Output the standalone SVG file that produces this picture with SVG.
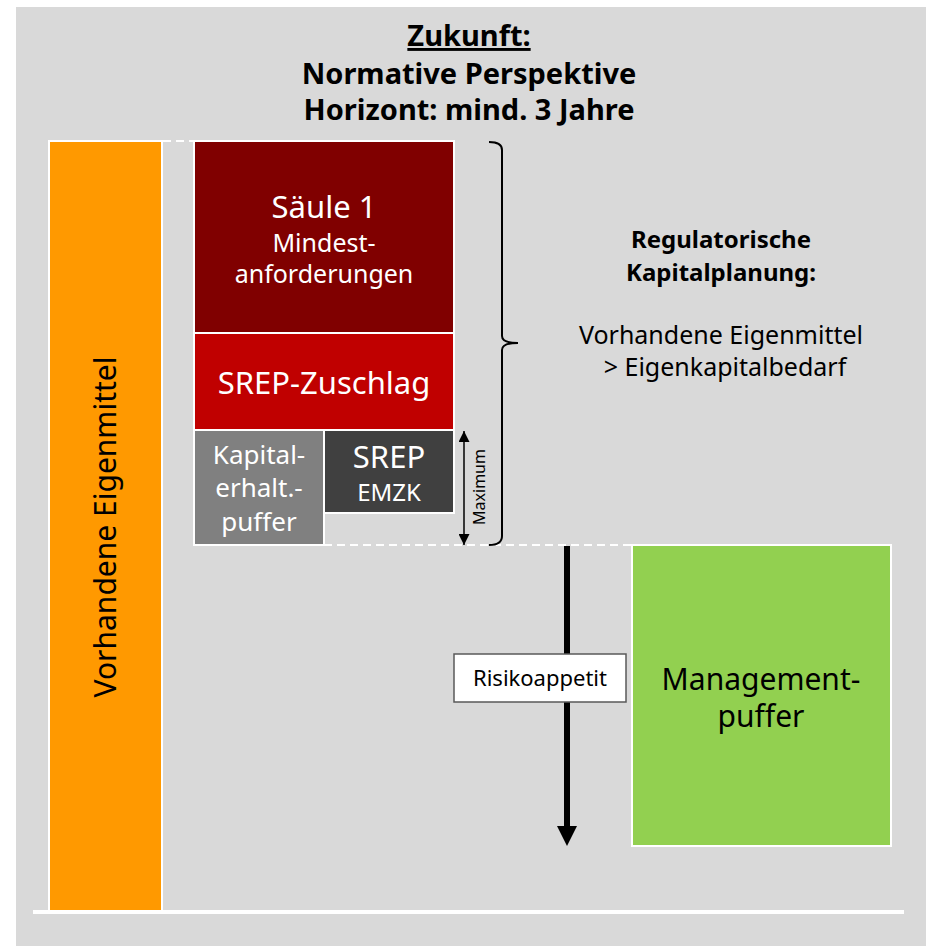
<svg xmlns="http://www.w3.org/2000/svg" width="926" height="946" viewBox="0 0 926 946">
  <defs>
    <style>
      text { font-family: "Noto Sans", "Open Sans", "DejaVu Sans", sans-serif; text-anchor: middle; }
      .w { fill: #ffffff; }
      .k { fill: #000000; }
      .b { font-weight: bold; }
      .box { stroke: #ffffff; stroke-width: 2; }
      .dash { stroke: #ffffff; stroke-width: 2; stroke-dasharray: 8 5; fill: none; }
    </style>
    <marker id="head" viewBox="0 0 10 10" refX="10" refY="5" markerWidth="11" markerHeight="11" markerUnits="userSpaceOnUse" orient="auto-start-reverse">
      <path d="M0,0 L10,5 L0,10 Z" fill="#000"/>
    </marker>
    <marker id="bigHead" viewBox="0 0 20 20" refX="0" refY="10" markerWidth="20" markerHeight="20" markerUnits="userSpaceOnUse" orient="auto">
      <path d="M0,0 L20,10 L0,20 Z" fill="#000"/>
    </marker>
  </defs>

  <!-- background panel -->
  <rect x="0" y="0" width="926" height="946" fill="#ffffff"/>
  <rect x="16" y="7" width="910" height="939" fill="#d9d9d9"/>

  <!-- heading -->
  <g id="heading">
    <text x="469" y="46" font-size="29" class="k b" text-decoration="underline">Zukunft:</text>
    <text x="469" y="84" font-size="29" class="k b">Normative Perspektive</text>
    <text x="469" y="120" font-size="29" class="k b">Horizont: mind. 3 Jahre</text>
  </g>

  <!-- base line -->
  <rect x="33" y="910" width="871" height="4" fill="#ffffff"/>

  <!-- connectors -->
  <g id="connectors">
    <line x1="163" y1="141" x2="194" y2="141" class="dash"/>
    <line x1="324" y1="545" x2="632" y2="545" class="dash"/>
    <!-- Maximum span -->
    <line x1="464" y1="431" x2="464" y2="545" stroke="#000" stroke-width="1.5" marker-start="url(#head)" marker-end="url(#head)"/>
    <!-- curly brace -->
    <path d="M489,142 Q502,142 502,150 L502,336 Q502,343 518,343 Q502,343 502,350 L502,536 Q502,545 489,545" fill="none" stroke="#000" stroke-width="2"/>
    <!-- risk appetite arrow -->
    <line x1="567" y1="546" x2="567" y2="826" stroke="#000" stroke-width="6" marker-end="url(#bigHead)"/>
  </g>

  <g id="eigenmittel">
    <rect x="49" y="141" width="113" height="770" fill="#ff9900" class="box"/>
    <text transform="translate(116,527) rotate(-90)" font-size="30" class="k">Vorhandene Eigenmittel</text>
  </g>

  <g id="saeule1">
    <rect x="194" y="141" width="260" height="192" fill="#800000" class="box"/>
    <text x="324" y="218" font-size="31" class="w">Säule 1</text>
    <text x="324" y="252" font-size="25" class="w">Mindest-</text>
    <text x="324" y="283" font-size="25" class="w">anforderungen</text>
  </g>

  <g id="srep-zuschlag">
    <rect x="194" y="333" width="260" height="97" fill="#c00000" class="box"/>
    <text x="324" y="394" font-size="31" class="w">SREP-Zuschlag</text>
  </g>

  <g id="kapitalerhaltungspuffer">
    <rect x="194" y="430" width="130" height="115" fill="#808080" class="box"/>
    <text x="259" y="464" font-size="26" class="w">Kapital-</text>
    <text x="259" y="497" font-size="26" class="w">erhalt.-</text>
    <text x="259" y="531" font-size="26" class="w">puffer</text>
  </g>

  <g id="srep-emzk">
    <rect x="324" y="430" width="130" height="83" fill="#404040" class="box"/>
    <text x="389" y="468" font-size="31" class="w">SREP</text>
    <text x="389" y="501" font-size="24" class="w">EMZK</text>
  </g>

  <g id="maximum-label">
    <text transform="translate(485,487) rotate(-90)" font-size="16" class="k">Maximum</text>
  </g>

  <g id="kapitalplanung">
    <text x="721" y="248" font-size="24" class="k b">Regulatorische</text>
    <text x="721" y="281" font-size="24" class="k b">Kapitalplanung:</text>
    <text x="721" y="344" font-size="25" class="k">Vorhandene Eigenmittel</text>
    <text x="725" y="376" font-size="25" class="k">&gt; Eigenkapitalbedarf</text>
  </g>

  <g id="risikoappetit">
    <rect x="454" y="654" width="172" height="48" fill="#ffffff" stroke="#595959" stroke-width="1.5"/>
    <text x="540" y="686" font-size="22" class="k">Risikoappetit</text>
  </g>

  <g id="managementpuffer">
    <rect x="632" y="545" width="259" height="301" fill="#92d050" class="box"/>
    <text x="761" y="690" font-size="30" class="k">Management-</text>
    <text x="761" y="727" font-size="30" class="k">puffer</text>
  </g>
</svg>
